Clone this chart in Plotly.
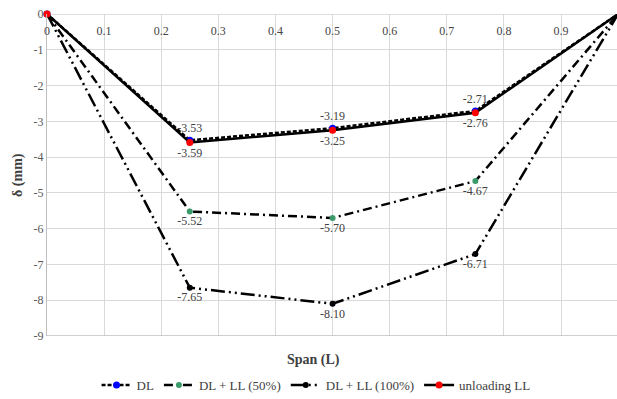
import plotly.graph_objects as go

span = [0, 0.25, 0.5, 0.75, 1.0]
dl = [0, -3.53, -3.19, -2.71, 0]
dl_ll50 = [0, -5.52, -5.70, -4.67, 0]
dl_ll100 = [0, -7.65, -8.10, -6.71, 0]
unloading = [0, -3.59, -3.25, -2.76, 0]

x_ticks = [0, 0.1, 0.2, 0.3, 0.4, 0.5, 0.6, 0.7, 0.8, 0.9]
y_ticks = [0, -1, -2, -3, -4, -5, -6, -7, -8, -9]

def labels(vals):
    return ["" if v == 0 else f"{v:.2f}" for v in vals]

serif = "Liberation Serif"
fig = go.Figure()

series = [
    ("DL", dl, "4px,2px", "#0000ff", 7, "top center"),
    ("DL + LL (50%)", dl_ll50, "9px,4px,2px,4px", "#3a9a6a", 6, "bottom center"),
    ("DL + LL (100%)", dl_ll100, "14px,4px,2px,4px,2px,4px", "#000000", 6, "bottom center"),
    ("unloading LL", unloading, "solid", "#ff0000", 7, "bottom center"),
]
for name, vals, dash, mcol, msize, tpos in series:
    fig.add_trace(go.Scatter(
        x=span, y=vals, name=name, mode="lines+markers+text",
        line=dict(color="black", width=2.5, dash=dash),
        marker=dict(color=mcol, size=msize),
        text=labels(vals), textposition=tpos,
        textfont=dict(family=serif, size=12, color="#404040"),
        cliponaxis=False,
    ))

fig.update_layout(
    template="none",
    width=617, height=399,
    margin=dict(l=47, r=0, t=14, b=63, pad=0),
    plot_bgcolor="white", paper_bgcolor="white",
    font=dict(family=serif, size=12, color="#595959"),
    showlegend=True,
    legend=dict(orientation="h", x=0.472, xanchor="center",
                yref="container", y=0.035, yanchor="middle",
                font=dict(family=serif, size=13, color="#404040"),
                bgcolor="rgba(0,0,0,0)"),
    xaxis=dict(range=[0, 0.998], tickvals=x_ticks, ticktext=[f"{t:g}" for t in x_ticks],
               side="top", ticklabelposition="inside", ticklabeloverflow="allow",
               ticklabelstandoff=10, showgrid=True, automargin=False,
               gridcolor="#d9d9d9", zeroline=False, showline=False, ticks=""),
    yaxis=dict(range=[-9, 0], tickvals=y_ticks, ticktext=[f"{t:g}" for t in y_ticks],
               showgrid=True, gridcolor="#d9d9d9", zeroline=False, showline=True,
               automargin=False, linecolor="#bfbfbf", ticks="", ticklen=0),
    annotations=[
        dict(text="<b>Span (L)</b>", x=0.467, xref="paper", y=-0.075, yref="paper",
             showarrow=False, xanchor="center", yanchor="middle",
             font=dict(family=serif, size=14, color="#404040")),
        dict(text="<b>δ (mm)</b>", x=-0.051, xref="paper", y=0.5, yref="paper",
             showarrow=False, textangle=-90, xanchor="center", yanchor="middle",
             font=dict(family=serif, size=14, color="#404040")),
    ],
)
fig.add_shape(type="line", xref="paper", yref="y", x0=0, x1=1, y0=-9, y1=-9,
              line=dict(color="#bfbfbf", width=1.5))
fig.add_shape(type="line", xref="paper", yref="y", x0=0, x1=1, y0=0, y1=0,
              line=dict(color="#bfbfbf", width=1), layer="below")

fig.write_html("out.html", config={"displayModeBar": False},
               post_script="document.body.style.margin='0px';")
